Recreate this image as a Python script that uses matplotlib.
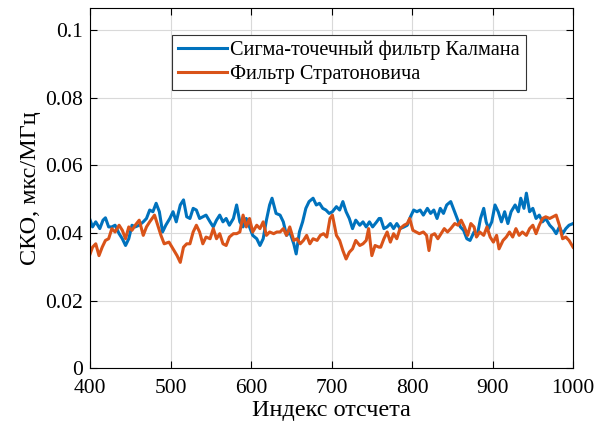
import matplotlib
matplotlib.use("Agg")
import matplotlib.pyplot as plt

plt.rcParams["font.family"] = ["Liberation Serif", "DejaVu Serif"]

# Sigma-point Kalman filter (blue)
ukf_idx = [400, 403, 407, 412, 416, 419, 423, 427, 431, 436, 440, 444, 448, 452, 456,
           461, 466, 470, 474, 478, 482, 486, 490, 494, 499, 503, 507, 512, 516,
           520, 524, 528, 532, 536, 540, 544, 549, 553, 557, 561, 565, 569, 573, 578,
           582, 586, 590, 594, 598, 602, 607, 611, 615, 619, 623, 626, 631,
           636, 640, 644, 648, 653, 656, 660, 664, 668, 672, 677, 681, 685, 689, 693,
           697, 701, 706, 710, 714, 718, 722, 726, 730, 735, 739, 743, 747, 751, 756, 759,
           761, 765, 769, 773, 777, 781, 785, 790, 794, 798, 802, 806, 810, 814, 819,
           823, 827, 831, 835, 839, 843, 848, 852, 856, 860, 864, 868, 872,
           877, 881, 885, 889, 892, 895, 899, 903, 907, 911, 915, 919, 923, 928, 932,
           935, 939, 942, 946, 950, 954, 958, 962, 966, 971, 975, 979, 983, 987, 991,
           995, 1000]
ukf_sko = [.0438, .0418, .0433, .0413, .0438, .0445, .0418, .0418, .0423, .0398, .0383,
           .0363, .0383, .0423, .0418, .0423, .0433, .0443, .0468, .0463, .0488, .0463,
           .0403, .0423, .0443, .0463, .0433, .0483, .0498,
           .0448, .0443, .0473, .0468, .0443, .0448, .0453, .0433, .0418, .0438, .0453,
           .0433, .0443, .0423, .0443, .0483, .0433, .0418, .0443, .0418, .0393, .0383,
           .0363, .0383, .0438, .0483, .0503, .0458,
           .0453, .0433, .0393, .0403, .0368, .0338, .0403, .0433, .0473, .0493, .0503,
           .0483, .0488, .0473, .0468, .0458, .0463, .0478, .0468, .0493, .0463, .0443,
           .0413, .0438, .0423, .0433, .0418, .0433, .0418, .0433, .0443,
           .0443, .0413, .0418, .0428, .0413, .0428, .0413, .0418, .0423, .0448, .0468,
           .0463, .0468, .0453, .0473, .0458, .0468, .0443, .0473, .0458, .0483, .0493,
           .0468, .0443, .0418, .0408, .0383, .0378,
           .0403, .0393, .0443, .0473, .0433, .0413, .0433, .0483, .0463, .0433, .0463,
           .0428, .0463, .0483, .0463, .0503, .0473, .0518, .0463, .0473, .0443, .0453,
           .0433, .0443, .0423, .0413, .0398, .0418, .0398, .0413, .0423, .0428]

# Stratonovich filter (red)
str_idx = [400, 403, 407, 411, 415, 419, 423, 427, 431, 436, 440, 444, 448, 452, 456,
           461, 466, 470, 474, 480, 484, 488, 492, 498, 503, 508, 512, 516,
           520, 524, 528, 532, 536, 540, 544, 549, 553, 557, 561, 565, 569, 573, 578,
           582, 586, 590, 594, 598, 602, 607, 611, 615, 619, 623, 628, 632,
           636, 640, 644, 648, 653, 657, 661, 665, 669, 673, 677, 682, 686, 690, 694,
           698, 701, 706, 710, 714, 718, 722, 726, 730, 735, 739, 743, 746, 750, 754, 759,
           761, 765, 769, 773, 777, 781, 785, 790, 794, 797, 801, 805, 809, 814, 818,
           821, 824, 828, 832, 836, 840, 844, 848, 853, 857, 861, 865, 869, 873,
           877, 880, 884, 889, 893, 897, 901, 905, 908, 913, 917, 921, 925, 929, 933,
           937, 942, 946, 950, 954, 958, 962, 966, 971, 975, 979, 983, 987, 991, 995, 1000]
str_sko = [.0338, .0358, .0368, .0333, .0358, .0378, .0383, .0413, .0403, .0423, .0408,
           .0383, .0418, .0408, .0423, .0438, .0393, .0418, .0433, .0453, .0423, .0393,
           .0368, .0373, .0353, .0333, .0313, .0358,
           .0368, .0368, .0403, .0423, .0403, .0368, .0388, .0383, .0413, .0383, .0398,
           .0368, .0363, .0388, .0398, .0398, .0403, .0453, .0418, .0443, .0403, .0423,
           .0413, .0433, .0393, .0403, .0398, .0403,
           .0403, .0413, .0393, .0418, .0378, .0383, .0368, .0378, .0393, .0368, .0383,
           .0378, .0393, .0398, .0388, .0443, .0453, .0393, .0378, .0348, .0323, .0343,
           .0353, .0378, .0363, .0368, .0378, .0413, .0333, .0363, .0358,
           .0358, .0383, .0403, .0373, .0398, .0383, .0413, .0423, .0428, .0443, .0408,
           .0403, .0398, .0403, .0393, .0348, .0393, .0398, .0383, .0398, .0413, .0403,
           .0413, .0428, .0423, .0438, .0418, .0393, .0428,
           .0418, .0388, .0403, .0393, .0418, .0388, .0373, .0393, .0353, .0378, .0388,
           .0403, .0388, .0413, .0393, .0403, .0393, .0413, .0423, .0398, .0423, .0443,
           .0448, .0443, .0448, .0453, .0423, .0383, .0388, .0378, .0358]

fig = plt.figure(figsize=(6.09, 4.32), dpi=100)
ax = fig.add_axes([0.148, 0.148, 0.793, 0.834])

ax.plot(ukf_idx, ukf_sko, color="#0072BD", lw=2.2, label="Сигма-точечный фильтр Калмана")
ax.plot(str_idx, str_sko, color="#D95319", lw=2.2, label="Фильтр Стратоновича")

ax.set_xlim(400, 1000)
ax.set_ylim(0, 0.1067)
ax.set_xticks(range(400, 1001, 100))
ax.set_yticks([0, 0.02, 0.04, 0.06, 0.08, 0.1])
ax.set_yticklabels(["0", "0.02", "0.04", "0.06", "0.08", "0.1"])
ax.tick_params(direction="in", top=True, right=True, labelsize=15.5, length=5, width=0.8)
ax.tick_params(axis="x", pad=8)
ax.tick_params(axis="y", pad=5)
ax.grid(True, color="#d9d9d9", lw=0.8)
ax.set_axisbelow(True)
for s in ax.spines.values():
    s.set_linewidth(0.8)

ax.set_xlabel("Индекс отсчета", fontsize=17.5, labelpad=1)
ax.set_ylabel("СКО, мкс/МГц", fontsize=17.5, labelpad=3)

leg = ax.legend(loc="upper left", bbox_to_anchor=(0.170, 0.925), fontsize=14.6,
                fancybox=False, framealpha=1, edgecolor="#333333",
                handlelength=2.4, handletextpad=0.15, borderpad=0.3,
                labelspacing=0.2, borderaxespad=0)
leg.get_frame().set_linewidth(0.8)

fig.savefig("out.png", dpi=100)
